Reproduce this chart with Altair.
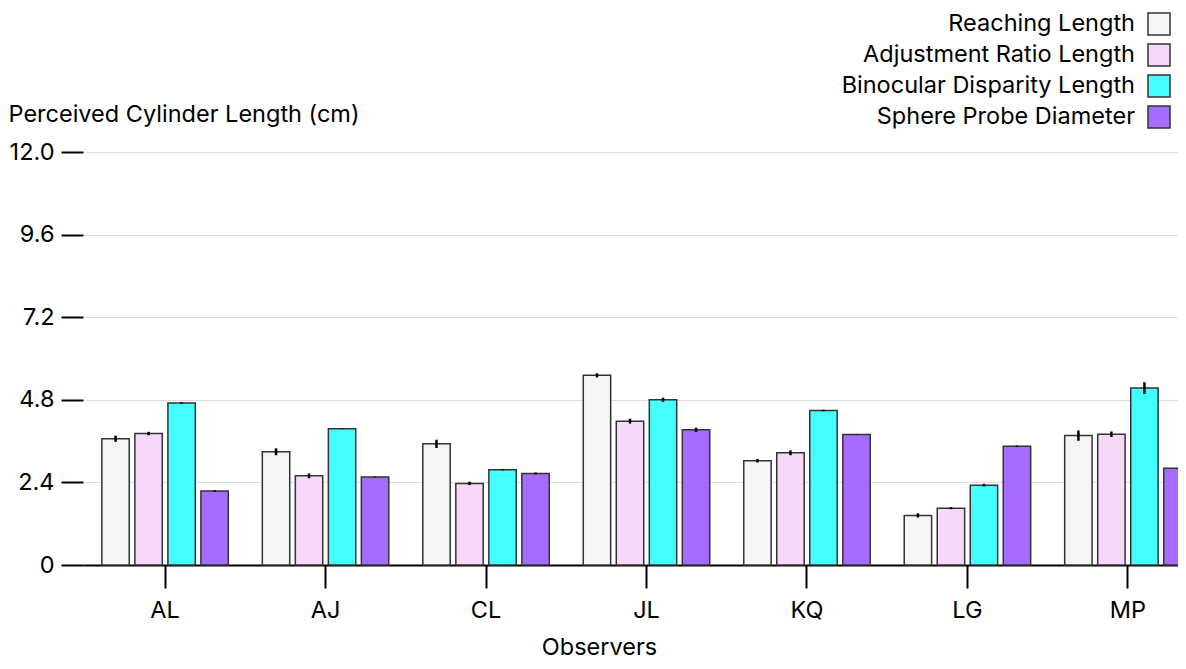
import altair as alt
import pandas as pd

observers = ["AL", "AJ", "CL", "JL", "KQ", "LG", "MP"]
measures = ["Reaching Length", "Adjustment Ratio Length", "Binocular Disparity Length", "Sphere Probe Diameter"]
colors = ["#f5f5f5", "#f8d8f8", "#44ffff", "#a66cff"]

reaching = [3.67, 3.29, 3.52, 5.51, 3.03, 1.44, 3.76]
reaching_err = [0.09, 0.10, 0.12, 0.06, 0.05, 0.06, 0.15]
adjustment = [3.82, 2.59, 2.37, 4.18, 3.26, 1.65, 3.80]
adjustment_err = [0.05, 0.07, 0.05, 0.07, 0.07, 0.03, 0.08]
binocular = [4.71, 3.96, 2.77, 4.80, 4.49, 2.32, 5.14]
binocular_err = [0.02, 0.01, 0.02, 0.06, 0.02, 0.04, 0.17]
sphere = [2.15, 2.56, 2.66, 3.93, 3.79, 3.45, 2.81]
sphere_err = [0.02, 0.01, 0.03, 0.06, 0.01, 0.02, 0.01]

yticks = [0, 2.4, 4.8, 7.2, 9.6, 12.0]

series = [(reaching, reaching_err), (adjustment, adjustment_err),
          (binocular, binocular_err), (sphere, sphere_err)]
rows = []
for m, (vals, errs) in zip(measures, series):
    for o, v, e in zip(observers, vals, errs):
        rows.append({"Observer": o, "Measure": m, "Value": v,
                     "lo": v - e, "hi": v + e})
df = pd.DataFrame(rows)

FONT = "Inter"
FS = 23.5

x_enc = alt.X("Observer:N", sort=observers,
              scale=alt.Scale(paddingInner=0.177, paddingOuter=0.1, range=[0, 1127]),
              axis=alt.Axis(title="Observers", labelAngle=0, tickSize=23, tickWidth=2,
                            tickColor="black", domainColor="black", domainWidth=2,
                            labelPadding=10, titlePadding=14, labelFontSize=FS,
                            titleFontSize=FS, titleFontWeight="normal",
                            titleX=516, labelColor="black", titleColor="black"))
xoff_enc = alt.XOffset("Measure:N", sort=measures,
                       scale=alt.Scale(paddingInner=0.17, paddingOuter=0.085))

bars = alt.Chart(df).mark_bar(stroke="#333333", strokeWidth=1.5).encode(
    x=x_enc,
    xOffset=xoff_enc,
    y=alt.Y("Value:Q", scale=alt.Scale(domain=[0, 12]),
            axis=alt.Axis(values=yticks, title="Perceived Cylinder Length (cm)",
                          labelExpr="datum.value == 0 ? '0' : format(datum.value, '.1f')",
                          domain=False, tickSize=22, tickWidth=2, tickColor="black",
                          labelPadding=7, labelFontSize=FS, labelColor="black",
                          gridColor="#dddddd", gridWidth=1,
                          titleAngle=0, titleAlign="left", titleBaseline="alphabetic",
                          titleX=-75, titleY=-31, titleFontSize=FS,
                          titleFontWeight="normal", titleColor="black")),
    color=alt.Color("Measure:N", sort=measures,
                    scale=alt.Scale(domain=measures, range=colors),
                    legend=alt.Legend(title=None, orient="none", legendX=1064, legendY=-140,
                                      symbolType="square", symbolSize=484,
                                      symbolStrokeColor="#333333", symbolStrokeWidth=1.5,
                                      symbolOpacity=1, labelAlign="right",
                                      labelOffset=alt.ExprRef("-36"), labelLimit=600,
                                      labelFontSize=FS, labelColor="black",
                                      rowPadding=3, padding=0)),
)

errs = alt.Chart(df).mark_rule(color="black", strokeWidth=2.5).encode(
    x=alt.X("Observer:N", sort=observers),
    xOffset=xoff_enc,
    y=alt.Y("lo:Q"),
    y2="hi:Q",
)

chart = alt.layer(bars, errs).properties(
    width=1095, height=413,
    autosize=alt.AutoSizeParams(type="none"),
    padding={"left": 75, "top": 144, "right": 0, "bottom": 96},
).configure(font=FONT).configure_view(stroke=None)

chart.save("out.html", embed_options={"renderer": "svg", "actions": False})
